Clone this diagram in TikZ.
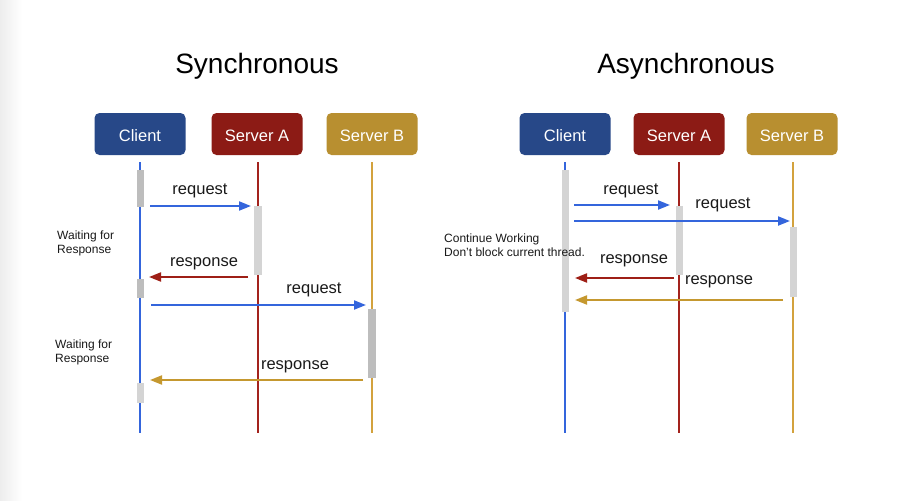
\documentclass[tikz,border=0pt]{standalone}
\usepackage{fontspec}
\setmainfont{Liberation Sans}
\usetikzlibrary{arrows.meta}
\definecolor{cbox}{HTML}{274888}
\definecolor{abox}{HTML}{8C1B15}
\definecolor{bbox}{HTML}{B88F30}
\definecolor{cline}{HTML}{3465DC}
\definecolor{aline}{HTML}{A3231D}
\definecolor{bline}{HTML}{D3A23D}
\definecolor{aarrow}{HTML}{9E1F16}
\definecolor{barrow}{HTML}{C5982F}
\definecolor{bardark}{HTML}{BDBDBD}
\definecolor{barlight}{HTML}{D4D4D4}
\begin{document}
\begin{tikzpicture}[x=1pt,y=-1pt,
  actor/.style={rounded corners=5pt,minimum width=91pt,minimum height=42pt,inner sep=0pt,
    text height=15pt,text depth=0pt,
    text=white,font=\fontsize{16.5}{20}\selectfont},
  title/.style={font=\fontsize{28}{32}\selectfont,text=black},
  lbl/.style={font=\fontsize{16.5}{20}\selectfont,text=black!90,inner sep=0pt},
  note/.style={font=\fontsize{12}{14}\selectfont,align=left,inner sep=0pt,text=black!90},
  life/.style={line width=1.5pt},
  msg/.style={line width=2pt,-{Triangle[length=12pt,width=9pt]}}]
\useasboundingbox (0,0) rectangle (911,501);
\fill[white] (0,0) rectangle (911,501);
\shade[left color=black!7,right color=white] (0,0) rectangle (22,501);

% ---------------- Synchronous ----------------
\node[title] (t1) at (257,66) {Synchronous};
\node[actor,fill=cbox] (c1) at (140,134) {Client};
\node[actor,fill=abox] (a1) at (257,134) {Server A};
\node[actor,fill=bbox] (b1) at (372,134) {Server B};

\coordinate (c1t) at (140,162); \coordinate (c1b) at (140,433);
\coordinate (a1t) at (258,162); \coordinate (a1b) at (258,433);
\coordinate (b1t) at (372,162); \coordinate (b1b) at (372,433);
\draw[life,cline] (c1t) -- (c1b);
\draw[life,aline] (a1t) -- (a1b);
\draw[life,bline] (b1t) -- (b1b);

\fill[bardark] (136.5,170) rectangle (143.5,207);
\fill[barlight] (254,206) rectangle (262,275);
\fill[bardark] (136.5,279) rectangle (143.5,298);
\fill[bardark] (368,309) rectangle (376,378);
\fill[barlight] (136.5,383) rectangle (143.5,403);

\coordinate (r1s) at (150,206); \coordinate (r1e) at (251,206);
\coordinate (p1s) at (248,277); \coordinate (p1e) at (149,277);
\coordinate (r2s) at (151,305); \coordinate (r2e) at (366,305);
\coordinate (p2s) at (363,380); \coordinate (p2e) at (150,380);
\draw[msg,cline] (r1s) -- (r1e);
\draw[msg,aarrow] (p1s) -- (p1e);
\draw[msg,cline] (r2s) -- (r2e);
\draw[msg,barrow] (p2s) -- (p2e);
\node[lbl] (l1) at (200,191) {request};
\node[lbl] (l2) at (204,264) {response};
\node[lbl] (l3) at (314,290) {request};
\node[lbl] (l4) at (295,367) {response};

\node[note,anchor=west] (w1) at (57,243) {Waiting for\\Response};
\node[note,anchor=west] (w2) at (55,352) {Waiting for\\Response};

% ---------------- Asynchronous ----------------
\node[title] (t2) at (686,66) {Asynchronous};
\node[actor,fill=cbox] (c2) at (565,134) {Client};
\node[actor,fill=abox] (a2) at (679,134) {Server A};
\node[actor,fill=bbox] (b2) at (792,134) {Server B};

\coordinate (c2t) at (565,162); \coordinate (c2b) at (565,433);
\coordinate (a2t) at (679,162); \coordinate (a2b) at (679,433);
\coordinate (b2t) at (793,162); \coordinate (b2b) at (793,433);
\draw[life,cline] (c2t) -- (c2b);
\draw[life,aline] (a2t) -- (a2b);
\draw[life,bline] (b2t) -- (b2b);

\fill[barlight] (561.5,170) rectangle (568.5,312);
\fill[barlight] (675.5,206) rectangle (682.5,275);
\fill[barlight] (789.5,227) rectangle (796.5,297);

\coordinate (r3s) at (574,205); \coordinate (r3e) at (670,205);
\coordinate (r4s) at (574,221); \coordinate (r4e) at (790,221);
\coordinate (p3s) at (674,278); \coordinate (p3e) at (575,278);
\coordinate (p4s) at (783,300); \coordinate (p4e) at (575,300);
\draw[msg,cline] (r3s) -- (r3e);
\draw[msg,cline] (r4s) -- (r4e);
\draw[msg,aarrow] (p3s) -- (p3e);
\draw[msg,barrow] (p4s) -- (p4e);
\node[lbl] (l5) at (631,191) {request};
\node[lbl] (l6) at (723,205) {request};
\node[lbl] (l7) at (634,261) {response};
\node[lbl] (l8) at (719,282) {response};

\node[note,anchor=west] (w3) at (444,245) {Continue Working\\Don’t block current thread.};
\end{tikzpicture}
\end{document}
